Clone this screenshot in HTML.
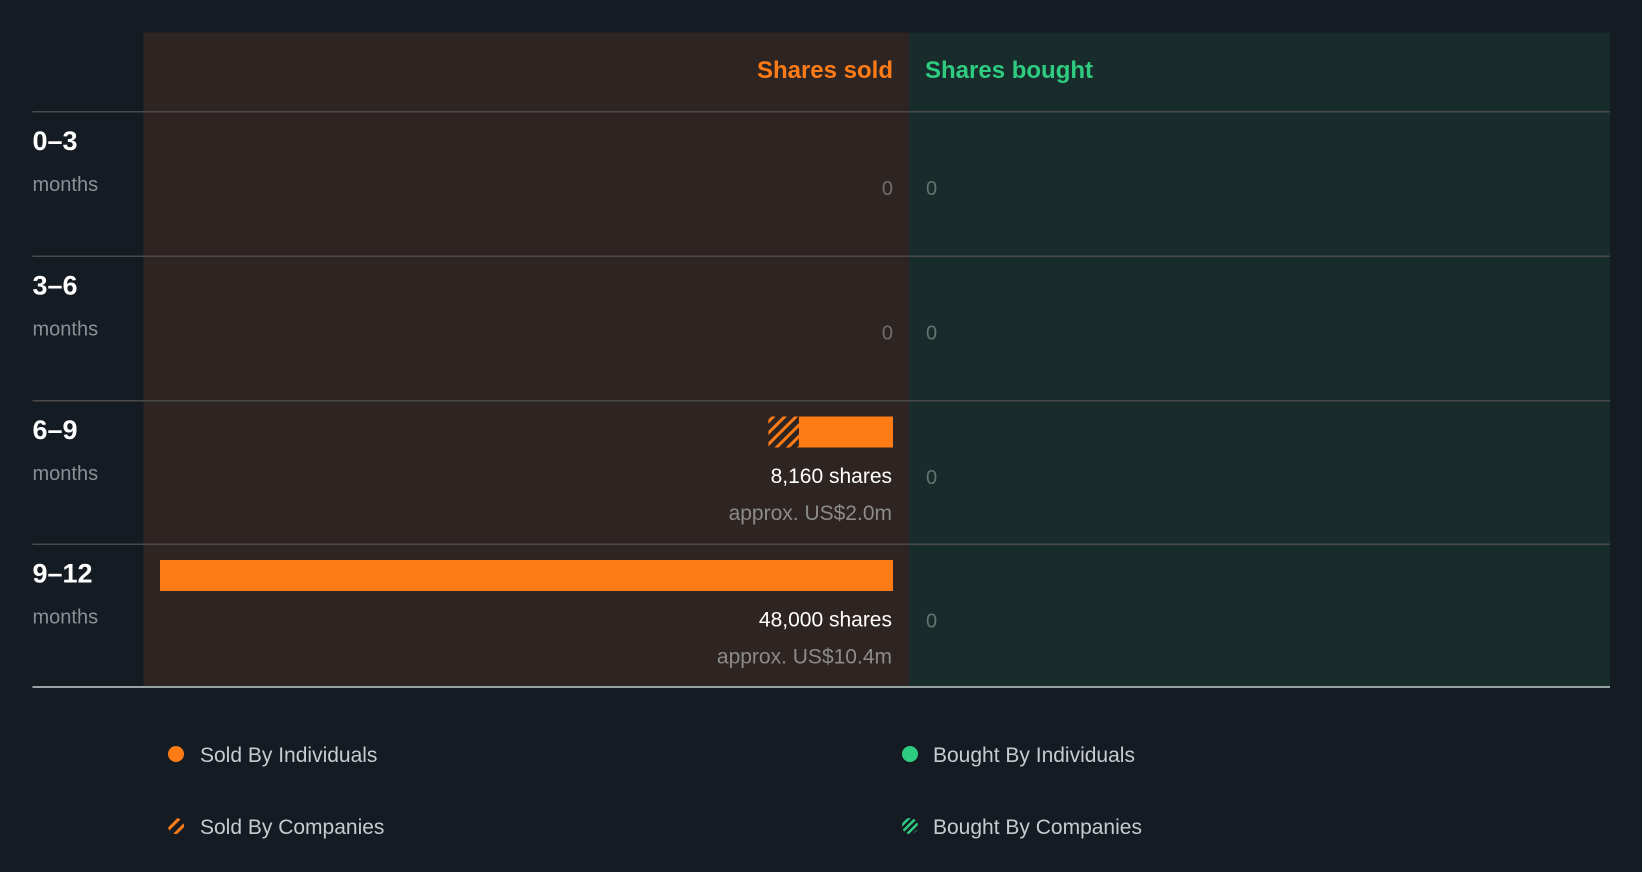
<!DOCTYPE html>
<html><head><meta charset="utf-8"><style>
html,body{margin:0;padding:0;background:#151b23;}
svg{display:block;font-family:"Liberation Sans",sans-serif;}
</style></head><body>
<svg id="chart" width="1642" height="872" viewBox="0 0 1642 872">
<defs>
<pattern id="hatchO" patternUnits="userSpaceOnUse" width="8" height="8" patternTransform="rotate(45)">
<rect width="3" height="8" fill="#ff7b16"/></pattern>
<pattern id="hatchG" patternUnits="userSpaceOnUse" width="5" height="5" patternTransform="rotate(45)">
<rect width="2.5" height="5" fill="#2ecc80"/></pattern>
</defs>
<rect x="0" y="0" width="1642" height="872" fill="#151b23"/>
<rect x="143.5" y="32.5" width="765.5" height="655" fill="#2e2422"/>
<rect x="909" y="32.5" width="701" height="655" fill="#182c2c"/>
<text x="893" y="78" text-anchor="end" font-size="24" font-weight="bold" fill="#ff7b16">Shares sold</text>
<text x="925" y="78" font-size="24" font-weight="bold" fill="#2ecc80">Shares bought</text>
<g id="rows"></g>
<rect x="32.5" y="686" width="1577.5" height="2" fill="#9aa3a3"/>
<g>
<circle cx="176" cy="754" r="8" fill="#ff7b16"/>
<text x="200" y="762" font-size="21" fill="#c8cbcf">Sold By Individuals</text>
<circle cx="910" cy="754" r="8" fill="#2ecc80"/>
<text x="933" y="762" font-size="21" fill="#c8cbcf">Bought By Individuals</text>
<circle cx="176" cy="826" r="8" fill="url(#hatchO)"/>
<text x="200" y="834" font-size="21" fill="#c8cbcf">Sold By Companies</text>
<circle cx="910" cy="826" r="8" fill="url(#hatchG)"/>
<text x="933" y="834" font-size="21" fill="#c8cbcf">Bought By Companies</text>
</g>
</svg>
<script>
const periods = ["0–3","3–6","6–9","9–12"];
const soldIndividuals = [0,0,6160,48000];
const soldCompanies = [0,0,2000,0];
const boughtIndividuals = [0,0,0,0];
const boughtCompanies = [0,0,0,0];
const soldValueLabels = ["","","approx. US$2.0m","approx. US$10.4m"];

const NS="http://www.w3.org/2000/svg";
const g=document.getElementById('rows');
const rowTop=[112,256.5,401,544.5];
const midX=893, maxW=733;
const maxVal=Math.max(...soldIndividuals.map((v,i)=>v+soldCompanies[i]),1);
function xScale(v){return v/maxVal*maxW;}
function mk(tag,attrs,txt){const e=document.createElementNS(NS,tag);for(const k in attrs)e.setAttribute(k,attrs[k]);if(txt!==undefined)e.textContent=txt;g.appendChild(e);return e;}
periods.forEach((p,i)=>{
  const t=rowTop[i];
  const line=mk('rect',{x:32.5,y:t-1,width:1577.5,height:1.5,fill:'#4a4a4a'});
  
  
  const lbl=mk('text',{x:32.5,y:t+38,'font-size':27,'font-weight':'bold',fill:'#ffffff'},p);
  
  
  const mo=mk('text',{x:32.5,y:t+79,'font-size':20,fill:'#8b9096'},'months');
  
  
  const total=soldIndividuals[i]+soldCompanies[i];
  if(total>0){
    const wi=xScale(soldIndividuals[i]), wc=xScale(soldCompanies[i]);
    const b=mk('rect',{x:midX-wi,y:t+15.5,width:wi,height:31,fill:'#ff7b16'});
    
    
    if(wc>0){
      const c=mk('rect',{x:midX-wi-wc,y:t+15.5,width:wc,height:31,fill:'url(#hatchO)'});
      
      
    }
    const s=mk('text',{x:midX-1,y:t+82,'text-anchor':'end','font-size':21,fill:'#ffffff'},total.toLocaleString('en-US')+' shares');
    
    
    const a=mk('text',{x:midX-1,y:t+119,'text-anchor':'end','font-size':21,fill:'#8b8b8b'},soldValueLabels[i]);
    
    
  } else {
    const z=mk('text',{x:midX,y:t+83,'text-anchor':'end','font-size':20,fill:'#6e6e6e'},'0');
    
    
  }
  const bt=boughtIndividuals[i]+boughtCompanies[i];
  const z2=mk('text',{x:926,y:t+83,'font-size':20,fill:'#5f7571'},bt.toLocaleString('en-US'));
  
  
});
</script>
</body></html>
